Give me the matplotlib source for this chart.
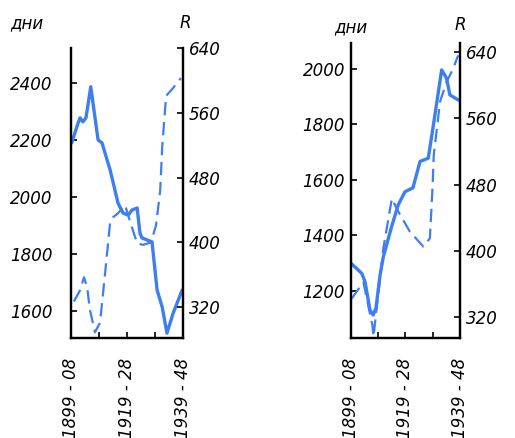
import matplotlib
matplotlib.use('Agg')
import matplotlib.pyplot as plt

# Левая панель: длительность (дни) и R
left_years = [1899.4, 1901.7, 1902.4, 1903.4, 1904.5, 1906.2, 1908.8, 1910.2, 1913.1,
              1915.9, 1917.7, 1919.5, 1920.9, 1922.7, 1923.7, 1924.4, 1928.0, 1928.4,
              1929.8, 1931.6, 1933.3, 1935.5, 1938.7]
left_days = [2188, 2258, 2276, 2262, 2276, 2385, 2199, 2188, 2093,
             1977, 1942, 1935, 1953, 1960, 1872, 1855, 1841, 1802,
             1672, 1613, 1521, 1591, 1672]

left_r_years = [1900.2, 1902.4, 1903.8, 1904.9, 1905.9, 1907.7, 1909.5, 1911.3, 1913.1,
                1914.1, 1915.9, 1918.4, 1920.8, 1922.7, 1924.8, 1927.6, 1929.4, 1930.9,
                1931.6, 1933.0, 1935.1, 1938.3]
left_r = [327, 341, 357, 345, 317, 289, 301, 362, 425,
          431, 436, 446, 419, 399, 397, 400, 421, 464,
          517, 581, 589, 603]

# Правая панель
right_years = [1899.0, 1903.1, 1904.3, 1906.1, 1907.3, 1908.3, 1909.8, 1911.0, 1914.0,
               1916.4, 1918.9, 1921.8, 1924.4, 1927.4, 1929.2, 1932.3, 1934.1, 1935.3,
               1938.3]
right_days = [1300, 1262, 1232, 1130, 1112, 1137, 1256, 1322, 1430,
              1508, 1556, 1570, 1665, 1677, 1791, 1995, 1965, 1905,
              1887]

right_r_years = [1899.4, 1903.7, 1907.0, 1907.4, 1911.0, 1914.1, 1916.5, 1920.7, 1925.6,
                 1928.0, 1929.0, 1929.4, 1931.7, 1934.1, 1936.5, 1938.3]
right_r = [342, 362, 310, 296, 403, 463, 447, 423, 405,
           415, 479, 515, 580, 604, 620, 636]

x_ticks = [1899, 1909, 1919, 1929, 1939]
x_labels = ['1899 - 08', '', '1919 - 28', '', '1939 - 48']

blue = '#3f7ef0'
fs = 12

fig = plt.figure(figsize=(5.15, 4.38), dpi=100)


def panel(rect, years, days, r_years, r, day_ticks, day_lim, r_lim, lpad):
    ax = fig.add_axes(rect)
    ax2 = ax.twinx()
    ax.plot(years, days, color=blue, lw=2.4, solid_capstyle='round')
    ax2.plot(r_years, r, color=blue, lw=1.6, dashes=(6, 3))
    ax.set_xlim(1899, 1939)
    ax.set_ylim(*day_lim)
    ax2.set_ylim(*r_lim)
    ax.set_yticks(day_ticks)
    ax2.set_yticks([320, 400, 480, 560, 640])
    ax.set_xticks(x_ticks)
    ax.set_xticklabels(x_labels, rotation=90, fontsize=fs, style='italic')
    ax.tick_params(axis='x', direction='in', length=4, width=1.2, pad=14)
    ax.tick_params(axis='y', direction='in', length=4, width=1.2, pad=lpad,
                   labelsize=fs)
    ax2.tick_params(axis='y', direction='in', length=4, width=1.2, pad=4,
                    labelsize=fs)
    for lab in ax.get_yticklabels() + ax2.get_yticklabels():
        lab.set_style('italic')
    for a in (ax, ax2):
        for s in a.spines.values():
            s.set_linewidth(1.6)
        a.spines['top'].set_visible(False)
    return ax, ax2


panel([0.1369, 0.2283, 0.2184, 0.6621], left_years, left_days, left_r_years, left_r,
      [1600, 1800, 2000, 2200, 2400], (1504, 2521), (282, 639), 13)
panel([0.6806, 0.2283, 0.2126, 0.6735], right_years, right_days, right_r_years, right_r,
      [1200, 1400, 1600, 1800, 2000], (1029, 2092), (294.5, 651), 4)

fig.text(0.052, 0.947, 'дни', fontsize=fs, style='italic', ha='center', va='center')
fig.text(0.359, 0.947, 'R', fontsize=fs, style='italic', ha='center', va='center')
fig.text(0.682, 0.938, 'дни', fontsize=fs, style='italic', ha='center', va='center')
fig.text(0.893, 0.943, 'R', fontsize=fs, style='italic', ha='center', va='center')

fig.savefig('out.png', dpi=100)
